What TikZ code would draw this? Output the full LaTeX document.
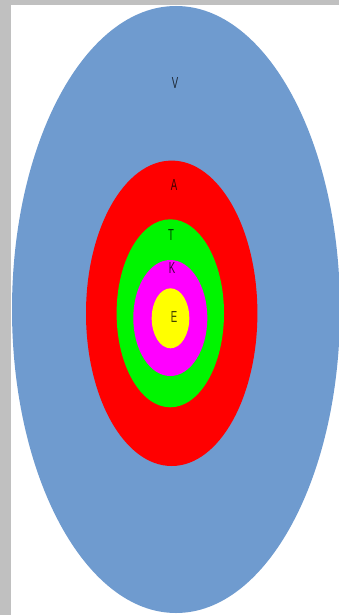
\documentclass[tikz,border=0pt]{standalone}
\usepackage{fontspec}
\setmainfont{Liberation Sans}
\definecolor{framegray}{RGB}{192,192,192}
\definecolor{skyblue}{RGB}{111,155,207}
\definecolor{ringred}{RGB}{255,0,0}
\definecolor{ringgreen}{RGB}{0,245,0}
\definecolor{ringmagenta}{RGB}{255,0,255}
\definecolor{ringyellow}{RGB}{255,255,0}
\begin{document}
\begin{tikzpicture}[x=1pt, y=-1pt, line join=round, line cap=round,
	lbl/.style={inner sep=0pt, font=\fontsize{16}{16}\selectfont, xscale=0.6, text opacity=0.75}]
				\def\W{339}\def\H{615}
				\useasboundingbox (0,0) rectangle (\W,\H);
				\path
				(176,309.5) coordinate (O_V)
				(171.7,313.3) coordinate (O_A)
				(170.3,313.3) coordinate (O_T)
				(170.3,318) coordinate (O_K)
				(170.5,318.3) coordinate (O_E)
				;
				\fill[framegray] (0,0) rectangle (\W,\H);
				\fill[white] (10.5,5.5) rectangle (\W,\H);
				\begin{scope}
				\clip (10.5,5.5) rectangle (\W,\H);
				\fill[skyblue] (O_V) ellipse (164 and 303.5);
				\end{scope}
				\fill[ringred] (O_A) ellipse (85.7 and 152.7);
				\fill[ringgreen] (O_T) ellipse (53.7 and 94);
				\fill[ringmagenta] (O_K) ellipse (37 and 58);
				\fill[ringyellow] (O_E) ellipse (18.8 and 30);
				\node[lbl] (V) at (175,83) {V};
				\node[lbl] (A) at (174,185) {A};
				\node[lbl] (T) at (171,235) {T};
				\node[lbl] (K) at (172,268) {K};
				\node[lbl] (E) at (174,317) {E};
			\end{tikzpicture}
\end{document}
